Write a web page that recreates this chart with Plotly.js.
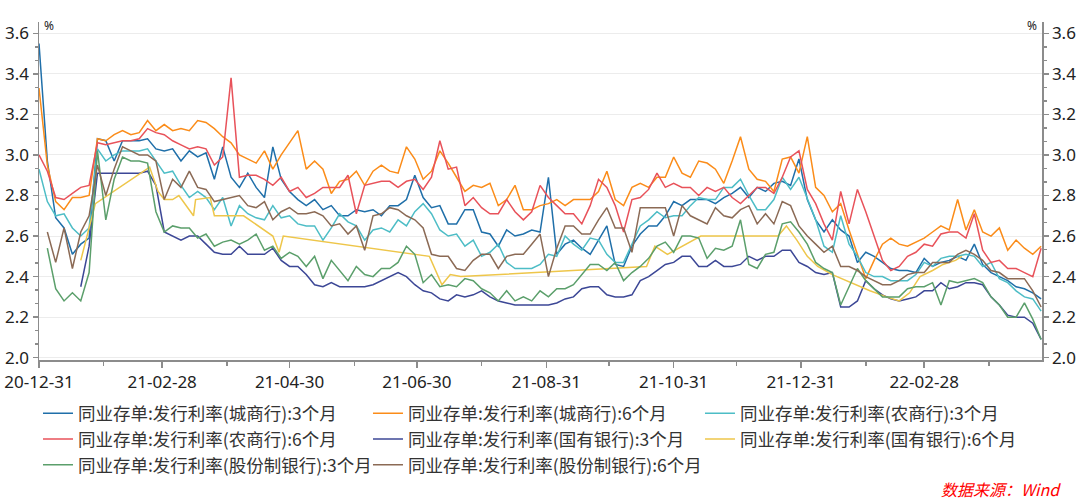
<!DOCTYPE html>
<html><head><meta charset="utf-8">
<script src="https://cdn.plot.ly/plotly-3.0.1.min.js"></script>
<style>html,body{margin:0;padding:0;background:#fff;}#chart{width:1080px;height:503px;}</style>
</head><body><div id="chart"></div>
<script>
// ---- data (sampled every 4 calendar days from 2020-12-31) ----
const startDate = '2020-12-31';
const stepDays = 4;

const seriesNames = [
  '同业存单:发行利率(城商行):3个月',
  '同业存单:发行利率(城商行):6个月',
  '同业存单:发行利率(农商行):3个月',
  '同业存单:发行利率(农商行):6个月',
  '同业存单:发行利率(国有银行):3个月',
  '同业存单:发行利率(国有银行):6个月',
  '同业存单:发行利率(股份制银行):3个月',
  '同业存单:发行利率(股份制银行):6个月'
];
const seriesColors = ['#1f6fa9','#fb8c19','#4dbdc6','#e8525a','#3c4796','#eec64a','#5b9f6b','#8b6a55'];

const cityBank3M = [
  3.55,2.97,2.69,2.64,2.51,2.56,2.59,3.08,3.07,2.97,3.07,3.07,3.07,3.08,3.03,
  3.02,3.03,2.97,3.02,2.99,3.01,2.88,3.04,2.89,2.84,2.91,2.84,2.79,3.04,2.88,2.82,
  2.78,2.75,2.78,2.73,2.75,2.70,2.70,2.73,2.72,2.73,2.70,2.75,2.75,2.78,2.90,
  2.79,2.74,2.75,2.66,2.66,2.73,2.73,2.62,2.61,2.55,2.63,2.60,2.61,2.63,2.62,
  2.89,2.51,2.56,2.58,2.54,2.51,2.58,2.65,2.46,2.45,2.55,2.61,2.65,2.65,2.70,
  2.77,2.75,2.78,2.78,2.78,2.76,2.79,2.81,2.84,2.79,2.84,2.82,2.86,2.87,2.85,
  2.98,2.78,2.68,2.62,2.68,2.63,2.60,2.47,2.52,2.50,2.47,2.44,2.43,2.43,2.42,
  2.49,2.45,2.47,2.48,2.50,2.48,2.56,2.46,2.42,2.40,2.38,2.35,2.34,2.32,2.29
];
const cityBank6M = [
  3.33,2.95,2.77,2.73,2.79,2.79,2.80,3.08,3.07,3.10,3.12,3.10,3.11,3.17,3.12,
  3.15,3.12,3.13,3.12,3.17,3.16,3.13,3.09,3.06,3.00,2.98,2.96,3.02,2.93,3.00,3.06,
  3.12,2.93,2.97,2.93,2.81,2.87,2.88,2.92,2.85,2.92,2.95,2.92,2.91,3.04,2.98,
  2.88,2.92,3.02,2.96,2.89,2.82,2.85,2.84,2.86,2.75,2.78,2.85,2.73,2.73,2.75,
  2.76,2.78,2.75,2.78,2.78,2.78,2.82,2.92,2.78,2.75,2.84,2.86,2.84,2.89,2.89,
  2.99,2.91,2.89,2.97,2.96,2.93,2.86,2.97,3.09,2.93,2.88,2.87,2.82,2.98,2.99,
  2.91,3.09,2.84,2.80,2.72,2.76,2.63,2.51,2.39,2.48,2.56,2.59,2.56,2.55,2.57,
  2.59,2.62,2.65,2.63,2.78,2.63,2.73,2.62,2.60,2.64,2.53,2.58,2.54,2.51,2.55
];
const ruralBank3M = [
  2.93,2.77,2.70,2.71,2.64,2.60,2.64,3.03,2.97,3.00,3.02,3.02,3.02,3.03,2.97,
  2.91,2.92,2.85,2.79,2.82,2.79,2.73,2.79,2.65,2.75,2.71,2.69,2.68,2.75,2.69,2.70,
  2.66,2.65,2.65,2.58,2.64,2.71,2.67,2.65,2.58,2.63,2.64,2.62,2.68,2.65,2.72,
  2.76,2.71,2.63,2.60,2.61,2.55,2.58,2.50,2.52,2.56,2.47,2.44,2.44,2.44,2.46,
  2.51,2.50,2.60,2.56,2.53,2.59,2.58,2.51,2.47,2.47,2.56,2.65,2.68,2.72,2.69,
  2.70,2.70,2.75,2.79,2.78,2.78,2.84,2.84,2.88,2.80,2.73,2.73,2.78,2.89,2.83,
  2.89,2.78,2.68,2.55,2.52,2.70,2.56,2.50,2.42,2.40,2.40,2.38,2.38,2.38,2.41,
  2.47,2.45,2.49,2.50,2.50,2.51,2.50,2.45,2.47,2.39,2.37,2.33,2.30,2.29,2.23
];
const ruralBank6M = [
  3.00,2.92,2.79,2.78,2.81,2.84,2.85,3.06,3.05,3.06,3.07,3.07,3.08,3.13,3.11,
  3.10,3.07,3.05,3.03,3.04,3.03,2.95,2.99,3.38,2.89,2.90,2.90,2.88,2.85,2.89,2.82,
  2.84,2.79,2.81,2.84,2.84,2.84,2.90,2.71,2.85,2.86,2.87,2.87,2.84,2.87,2.88,
  2.83,2.89,3.07,2.93,2.94,2.75,2.79,2.74,2.71,2.71,2.78,2.72,2.68,2.72,2.85,
  2.79,2.75,2.71,2.71,2.66,2.75,2.88,2.84,2.75,2.62,2.78,2.79,2.83,2.91,2.84,
  2.86,2.84,2.84,2.80,2.84,2.82,2.84,2.79,2.76,2.80,2.84,2.84,2.81,2.89,2.99,
  3.02,2.83,2.76,2.66,2.58,2.82,2.66,2.83,2.72,2.60,2.48,2.43,2.45,2.50,2.52,
  2.56,2.55,2.61,2.62,2.62,2.59,2.71,2.53,2.47,2.48,2.44,2.44,2.42,2.40,2.54
];
const stateBank3M = [
  null,null,null,null,null,2.35,2.55,2.91,2.91,2.91,2.91,2.91,2.91,2.92,2.85,
  2.62,2.60,2.58,2.60,2.60,2.56,2.52,2.51,2.51,2.55,2.51,2.51,2.51,2.54,2.48,2.45,
  2.45,2.41,2.36,2.35,2.37,2.35,2.35,2.35,2.35,2.36,2.38,2.40,2.42,2.40,2.36,
  2.33,2.32,2.29,2.28,2.31,2.30,2.31,2.33,2.30,2.28,2.27,2.26,2.26,2.26,2.26,
  2.26,2.27,2.29,2.30,2.34,2.35,2.35,2.31,2.30,2.30,2.31,2.38,2.40,2.43,2.46,
  2.47,2.50,2.50,2.45,2.45,2.48,2.45,2.45,2.46,2.50,2.48,2.50,2.50,2.53,2.53,
  2.47,2.45,2.42,2.41,2.42,2.25,2.25,2.28,2.38,2.34,2.31,2.29,2.28,2.29,2.30,
  2.33,2.33,2.37,2.34,2.35,2.37,2.37,2.36,2.30,2.26,2.21,2.20,2.20,2.17,2.09
];
const jointBank3M = [
  null,2.54,2.34,2.28,2.32,2.28,2.42,3.02,2.68,2.88,2.99,2.97,2.97,2.96,2.72,
  2.62,2.65,2.64,2.64,2.59,2.61,2.55,2.57,2.58,2.56,2.58,2.61,2.53,2.55,2.49,2.52,
  2.50,2.45,2.50,2.39,2.48,2.43,2.38,2.45,2.41,2.40,2.44,2.44,2.47,2.55,2.51,
  2.37,2.41,2.35,2.36,2.35,2.39,2.38,2.34,2.32,2.28,2.33,2.28,2.30,2.28,2.33,
  2.30,2.34,2.34,2.36,2.41,2.46,2.46,2.43,2.47,2.38,2.42,2.45,2.49,2.55,2.57,
  2.52,2.60,2.60,2.59,2.49,2.54,2.53,2.55,2.68,2.46,2.44,2.51,2.52,2.66,2.67,
  2.62,2.56,2.47,2.44,2.42,2.26,2.35,2.44,2.38,2.34,2.30,2.30,2.30,2.34,2.35,
  2.35,2.37,2.26,2.38,2.37,2.38,2.39,2.37,2.30,2.26,2.20,2.20,2.27,2.19,2.09
];
const jointBank6M = [
  null,2.62,2.47,2.64,2.44,2.62,2.70,2.95,2.80,2.93,3.04,3.02,3.00,3.00,2.97,
  2.78,2.88,2.84,2.92,2.84,2.83,2.77,2.78,2.79,2.80,2.75,2.74,2.77,2.68,2.72,2.74,
  2.71,2.71,2.72,2.70,2.65,2.66,2.61,2.65,2.53,2.70,2.71,2.74,2.73,2.70,2.68,
  2.64,2.51,2.50,2.50,2.44,2.43,2.48,2.51,2.51,2.44,2.50,2.51,2.51,2.56,2.61,
  2.40,2.54,2.65,2.65,2.61,2.61,2.68,2.74,2.64,2.64,2.52,2.74,2.74,2.74,2.74,
  2.60,2.75,2.70,2.68,2.66,2.74,2.70,2.69,2.73,2.75,2.66,2.71,2.66,2.77,2.75,
  2.65,2.60,2.56,2.52,2.55,2.45,2.45,2.43,2.40,2.38,2.36,2.36,2.38,2.41,2.42,
  2.42,2.47,2.47,2.47,2.51,2.53,2.51,2.48,2.43,2.42,2.39,2.39,2.39,2.33,2.25
];
// 国有银行6个月: sparse observations, its own dates
const stateBank6MDates = [
  '2021-01-20','2021-01-27','2021-02-22','2021-02-26','2021-03-01','2021-03-05','2021-03-08',
  '2021-03-15','2021-03-16','2021-03-23','2021-03-25','2021-04-08','2021-04-22','2021-04-25',
  '2021-04-27','2021-07-06','2021-07-12','2021-07-16','2021-07-21','2021-10-18','2021-10-22',
  '2021-10-28','2021-11-13','2021-12-20','2021-12-24','2021-12-29','2022-01-03','2022-01-08',
  '2022-01-15','2022-01-24','2022-02-02','2022-02-10','2022-02-16','2022-02-21','2022-02-26',
  '2022-03-04','2022-03-09','2022-03-15','2022-03-18'
];
const stateBank6M = [
  2.48,2.76,2.94,2.82,2.78,2.78,2.80,
  2.70,2.78,2.79,2.70,2.70,2.60,2.52,
  2.60,2.50,2.36,2.41,2.40,2.45,2.55,
  2.51,2.60,2.60,2.65,2.58,2.50,2.45,
  2.41,2.37,2.33,2.30,2.28,2.32,2.40,
  2.43,2.46,2.48,2.50
];

const xTickVals = ['2020-12-31','2021-02-28','2021-04-30','2021-06-30','2021-08-31','2021-10-31','2021-12-31','2022-02-28'];
const xTickText = ['20-12-31','21-02-28','21-04-30','21-06-30','21-08-31','21-10-31','21-12-31','22-02-28'];
const xMinorVals = ['2021-01-31','2021-03-31','2021-05-31','2021-07-31','2021-09-30','2021-11-30','2022-01-31','2022-03-31'];
const yTickVals = [2.0,2.2,2.4,2.6,2.8,3.0,3.2,3.4,3.6];
const yTickText = ['2.0','2.2','2.4','2.6','2.8','3.0','3.2','3.4','3.6'];
const sourceText = '数据来源：Wind';

// ---- build traces ----
const gridSeries = [cityBank3M, cityBank6M, ruralBank3M, ruralBank6M, stateBank3M, null, jointBank3M, jointBank6M];
const legendOf = ['legend','legend2','legend3','legend','legend2','legend3','legend','legend2'];
const dayMs = 86400000;
const traces = seriesNames.map((name, i) => {
  const t = {
    type: 'scatter', mode: 'lines', name: name,
    line: {color: seriesColors[i], width: 1.5},
    legend: legendOf[i], legendgroup: 'g' + i,
    hoverinfo: 'skip', connectgaps: false
  };
  if (gridSeries[i]) {
    t.y = gridSeries[i]; t.x0 = startDate; t.dx = stepDays * dayMs;
  } else {
    t.x = stateBank6MDates; t.y = stateBank6M;
  }
  return t;
});
// invisible companion so the right-hand axis (same scale) is drawn
traces.push({
  type: 'scatter', mode: 'lines', y: cityBank3M, x0: startDate, dx: stepDays * dayMs,
  yaxis: 'y2', line: {width: 0, color: 'rgba(0,0,0,0)'}, opacity: 0,
  showlegend: false, hoverinfo: 'skip'
});

const tickFont = {family: 'Noto Sans, Open Sans, sans-serif', size: 17, color: '#222'};
const legendFont = {family: 'Noto Sans CJK SC, sans-serif', size: 17.5, color: '#333'};
const axisCol = '#8c8c8c';
const yRange = [1.9887, 3.6557];

const mkLegend = (x) => ({
  x: x, xanchor: 'left', y: -0.105, yanchor: 'top', orientation: 'v',
  bgcolor: 'rgba(0,0,0,0)', font: legendFont, tracegroupgap: 1, itemwidth: 30,
  traceorder: 'normal'
});

const layout = {
  width: 1080, height: 503,
  margin: {l: 39, r: 38, t: 22, b: 143, pad: 0},
  paper_bgcolor: '#fff', plot_bgcolor: '#fff',
  showlegend: true,
  xaxis: {
    type: 'date', range: ['2020-12-31', '2022-04-25 10:00'],
    tickmode: 'array', tickvals: xTickVals, ticktext: xTickText,
    ticks: 'outside', ticklen: 6, tickwidth: 1.5, tickcolor: axisCol,
    showline: true, linecolor: axisCol, linewidth: 1.5,
    showgrid: false, zeroline: false, tickfont: tickFont,
    minor: {tickmode: 'array', tickvals: xMinorVals, ticks: 'outside', ticklen: 4, tickcolor: axisCol, showgrid: false}
  },
  yaxis: {
    range: yRange, tickmode: 'array', tickvals: yTickVals, ticktext: yTickText,
    ticks: 'outside', ticklen: 5, tickwidth: 1.5, tickcolor: axisCol,
    showline: true, linecolor: axisCol, linewidth: 1.5,
    showgrid: true, gridcolor: '#ececec', gridwidth: 1, zeroline: false,
    tickfont: tickFont,
    minor: {tick0: 2.0, dtick: 0.2 / 3, ticks: 'outside', ticklen: 3, tickcolor: axisCol, showgrid: false}
  },
  yaxis2: {
    overlaying: 'y', side: 'right', anchor: 'x',
    range: yRange, tickmode: 'array', tickvals: yTickVals, ticktext: yTickText,
    ticks: 'outside', ticklen: 5, tickwidth: 1.5, tickcolor: axisCol,
    showline: true, linecolor: axisCol, linewidth: 1.5,
    showgrid: false, zeroline: false, tickfont: tickFont,
    minor: {tick0: 2.0, dtick: 0.2 / 3, ticks: 'outside', ticklen: 3, tickcolor: axisCol, showgrid: false}
  },
  legend: mkLegend(-0.001),
  legend2: mkLegend(0.328),
  legend3: mkLegend(0.659),
  annotations: [
    {text: '%', xref: 'paper', yref: 'paper', x: 0.003, y: 0.99, xanchor: 'left', yanchor: 'middle', showarrow: false, font: {family: 'Noto Sans', size: 12, color: '#222'}},
    {text: '%', xref: 'paper', yref: 'paper', x: 0.997, y: 0.99, xanchor: 'right', yanchor: 'middle', showarrow: false, font: {family: 'Noto Sans', size: 12, color: '#222'}},
    {text: '<i>' + sourceText + '</i>', xref: 'paper', yref: 'paper', x: 1.021, y: -0.382, xanchor: 'right', yanchor: 'middle', showarrow: false, font: {family: 'Noto Sans CJK SC, sans-serif', size: 16, color: '#ff0000'}}
  ]
};

Plotly.newPlot('chart', traces, layout, {staticPlot: true, displayModeBar: false});
</script>
</body></html>
